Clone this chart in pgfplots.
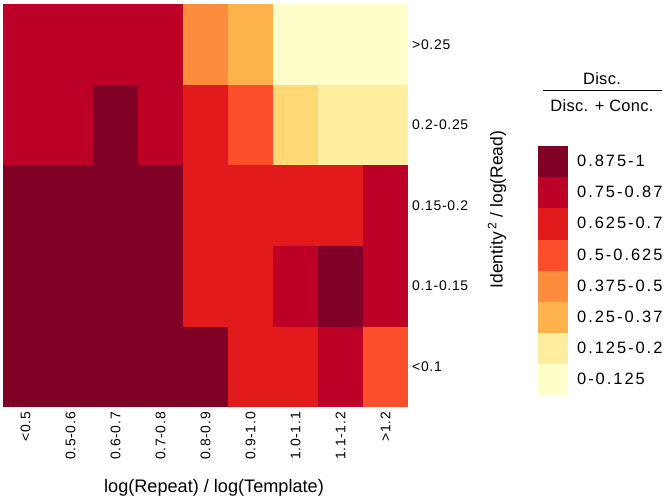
\documentclass[border=0pt]{standalone}
\usepackage{fontspec}
\setmainfont{Liberation Sans}
\newfontfamily\tickfont[LetterSpace=5]{Liberation Sans}
\newfontfamily\legfont[LetterSpace=12]{Liberation Sans}
\newfontfamily\titfont[LetterSpace=2]{Liberation Sans}
\usepackage{pgfplots}
\pgfplotsset{compat=1.18}
\definecolor{c0}{HTML}{FFFFCC}
\definecolor{c1}{HTML}{FFEDA0}
\definecolor{c2}{HTML}{FED976}
\definecolor{c3}{HTML}{FEB24C}
\definecolor{c4}{HTML}{FD8D3C}
\definecolor{c5}{HTML}{FC4E2A}
\definecolor{c6}{HTML}{E31A1C}
\definecolor{c7}{HTML}{BD0026}
\definecolor{c8}{HTML}{800026}
\pgfdeclareplotmark{cell}{\pgfpathrectanglecorners{\pgfpoint{-22.8bp}{-40.6bp}}{\pgfpoint{22.8bp}{40.6bp}}\pgfusepathqfill}
\pgfplotstableread{
x y c
0 0 8
1 0 8
2 0 8
3 0 8
4 0 8
5 0 6
6 0 6
7 0 7
8 0 5
0 1 8
1 1 8
2 1 8
3 1 8
4 1 6
5 1 6
6 1 7
7 1 8
8 1 7
0 2 8
1 2 8
2 2 8
3 2 8
4 2 6
5 2 6
6 2 6
7 2 6
8 2 7
0 3 7
1 3 7
2 3 8
3 3 7
4 3 6
5 3 5
6 3 2
7 3 1
8 3 1
0 4 7
1 4 7
2 4 7
3 4 7
4 4 4
5 4 3
6 4 0
7 4 0
8 4 0
}\heat
\begin{document}
\begin{tikzpicture}
\path[use as bounding box] (-3bp,-94bp) rectangle (663bp,407bp);
\begin{axis}[at={(0,0)}, anchor=south west,
  width=405bp, height=403bp, scale only axis,
  xmin=-0.5, xmax=8.5, ymin=-0.5, ymax=4.5,
  axis line style={draw=none}, major tick length=0pt,
  xtick={0,1,2,3,4,5,6,7,8},
  xticklabels={<0.5,0.5-0.6,0.6-0.7,0.7-0.8,0.8-0.9,0.9-1.0,1.0-1.1,1.1-1.2,>1.2},
  ytick={0,1,2,3,4},
  yticklabels={<0.1,0.1-0.15,0.15-0.2,0.2-0.25,>0.25},
  yticklabel pos=right,
  xticklabel style={rotate=90, anchor=east, inner sep=5bp, font=\tickfont\fontsize{14}{16}\selectfont},
  yticklabel style={anchor=west, inner sep=4bp, font=\tickfont\fontsize{14}{16}\selectfont},
  xlabel={log(Repeat) / log(Template)},
  xlabel style={at={(axis description cs:0.521,-0.201)}, anchor=center, font=\fontsize{18.2}{20}\selectfont},
  ylabel={Identity\,\textsuperscript{2} / log(Read)},
  every axis y label/.style={at={(axis description cs:1.22,0.49)}, rotate=90, anchor=center, font=\fontsize{17.5}{20}\selectfont},
  legend style={at={(1.321,0.6476)}, anchor=north west, draw=none, fill=none, inner sep=0pt, row sep=0pt, column sep=7bp, font=\legfont\fontsize{16.5}{18}\selectfont},
  legend cell align=left,
  legend image code/.code={\fill[#1] (0bp,-15.55bp) rectangle (30bp,15.55bp);},
]
\addplot[scatter, only marks, mark=cell, point meta=explicit symbolic,
  scatter/classes={
    0={mark=cell,fill=c0,draw=none},
    1={mark=cell,fill=c1,draw=none},
    2={mark=cell,fill=c2,draw=none},
    3={mark=cell,fill=c3,draw=none},
    4={mark=cell,fill=c4,draw=none},
    5={mark=cell,fill=c5,draw=none},
    6={mark=cell,fill=c6,draw=none},
    7={mark=cell,fill=c7,draw=none},
    8={mark=cell,fill=c8,draw=none}},
  forget plot] table[x=x, y=y, meta=c] {\heat};
\addlegendimage{fill=c8, draw=none}
\addlegendentry{0.875-1}
\addlegendimage{fill=c7, draw=none}
\addlegendentry{0.75-0.87}
\addlegendimage{fill=c6, draw=none}
\addlegendentry{0.625-0.7}
\addlegendimage{fill=c5, draw=none}
\addlegendentry{0.5-0.625}
\addlegendimage{fill=c4, draw=none}
\addlegendentry{0.375-0.5}
\addlegendimage{fill=c3, draw=none}
\addlegendentry{0.25-0.37}
\addlegendimage{fill=c1, draw=none}
\addlegendentry{0.125-0.2}
\addlegendimage{fill=c0, draw=none}
\addlegendentry{0-0.125}
\end{axis}
\node[font=\titfont\fontsize{16.5}{18}\selectfont, inner sep=0pt] at (599bp,328bp) {Disc.};
\draw[line width=1bp] (540bp,316.3bp) -- (659bp,316.3bp);
\node[font=\titfont\fontsize{16.5}{18}\selectfont, inner sep=0pt] at (599bp,301bp) {Disc. + Conc.};
\end{tikzpicture}
\end{document}
